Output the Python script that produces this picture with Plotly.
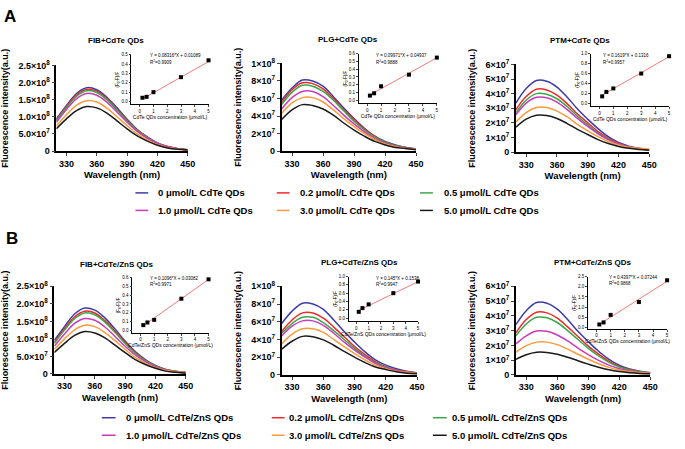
import plotly.graph_objects as go

############ Data ##############
wavelength = [320, 330, 340, 350, 360, 370, 380, 390, 400, 410, 420, 430, 440, 450]

conc_labels = ["0", "0.2", "0.5", "1.0", "3.0", "5.0"]
line_colors = ["#3c3ca8", "#f02828", "#3aa84a", "#c83cb8", "#fb9a3c", "#1a1a1a"]

# emission spectra, one row per QD concentration
# FIB values in units of 1e8, PLG / PTM values in units of 1e7
fib_cdte = [
    [0.93, 1.33, 1.68, 1.85, 1.79, 1.57, 1.26, 0.93, 0.63, 0.41, 0.24, 0.13, 0.07, 0.04],
    [0.90, 1.30, 1.64, 1.80, 1.75, 1.53, 1.22, 0.90, 0.61, 0.40, 0.23, 0.13, 0.07, 0.04],
    [0.88, 1.27, 1.60, 1.76, 1.71, 1.50, 1.20, 0.88, 0.60, 0.39, 0.23, 0.12, 0.07, 0.04],
    [0.84, 1.21, 1.53, 1.68, 1.63, 1.43, 1.14, 0.84, 0.57, 0.37, 0.22, 0.12, 0.07, 0.03],
    [0.74, 1.06, 1.34, 1.47, 1.43, 1.25, 1.00, 0.74, 0.50, 0.32, 0.19, 0.10, 0.06, 0.03],
    [0.65, 0.94, 1.18, 1.30, 1.26, 1.11, 0.88, 0.65, 0.44, 0.29, 0.17, 0.09, 0.05, 0.03],
]
plg_cdte = [
    [5.8, 7.2, 8.1, 8.0, 7.4, 6.2, 4.9, 3.7, 2.6, 1.7, 1.1, 0.7, 0.4, 0.25],
    [5.5, 7.0, 7.8, 7.7, 7.1, 6.0, 4.7, 3.6, 2.5, 1.7, 1.0, 0.6, 0.4, 0.2],
    [5.3, 6.7, 7.5, 7.4, 6.8, 5.8, 4.6, 3.4, 2.4, 1.6, 1.0, 0.6, 0.4, 0.2],
    [4.8, 6.1, 6.8, 6.8, 6.2, 5.2, 4.1, 3.1, 2.2, 1.4, 0.9, 0.55, 0.35, 0.2],
    [4.3, 5.5, 6.1, 6.1, 5.6, 4.7, 3.7, 2.8, 2.0, 1.3, 0.8, 0.5, 0.3, 0.2],
    [3.6, 4.7, 5.3, 5.2, 4.8, 4.1, 3.2, 2.4, 1.7, 1.1, 0.7, 0.4, 0.3, 0.15],
]
ptm_cdte = [
    [3.35, 4.35, 4.9, 4.85, 4.45, 3.75, 2.95, 2.25, 1.6, 1.05, 0.65, 0.4, 0.25, 0.15],
    [2.9, 3.8, 4.3, 4.25, 3.9, 3.3, 2.6, 2.0, 1.4, 0.95, 0.6, 0.35, 0.22, 0.14],
    [2.7, 3.55, 4.0, 3.95, 3.65, 3.1, 2.45, 1.85, 1.3, 0.9, 0.55, 0.35, 0.22, 0.14],
    [2.55, 3.35, 3.75, 3.72, 3.42, 2.9, 2.3, 1.75, 1.25, 0.85, 0.55, 0.35, 0.22, 0.14],
    [2.05, 2.7, 3.05, 3.05, 2.8, 2.4, 1.9, 1.45, 1.05, 0.72, 0.48, 0.33, 0.25, 0.2],
    [1.7, 2.25, 2.52, 2.5, 2.3, 1.95, 1.55, 1.2, 0.85, 0.58, 0.38, 0.25, 0.17, 0.12],
]
fib_cdte_zns = [
    [0.96, 1.35, 1.71, 1.88, 1.82, 1.60, 1.28, 0.94, 0.64, 0.41, 0.24, 0.13, 0.08, 0.05],
    [0.90, 1.29, 1.63, 1.79, 1.74, 1.52, 1.22, 0.90, 0.61, 0.39, 0.23, 0.13, 0.07, 0.04],
    [0.87, 1.25, 1.58, 1.74, 1.69, 1.48, 1.18, 0.87, 0.59, 0.38, 0.23, 0.12, 0.07, 0.04],
    [0.79, 1.14, 1.44, 1.58, 1.53, 1.34, 1.07, 0.79, 0.54, 0.35, 0.21, 0.11, 0.06, 0.03],
    [0.70, 1.00, 1.26, 1.39, 1.35, 1.18, 0.95, 0.70, 0.47, 0.31, 0.18, 0.10, 0.06, 0.03],
    [0.61, 0.87, 1.10, 1.21, 1.17, 1.03, 0.82, 0.61, 0.41, 0.27, 0.16, 0.08, 0.05, 0.02],
]
plg_cdte_zns = [
    [5.8, 7.2, 8.1, 8.0, 7.4, 6.2, 4.9, 3.7, 2.6, 1.7, 1.1, 0.7, 0.4, 0.25],
    [4.9, 6.2, 7.0, 7.0, 6.4, 5.4, 4.3, 3.2, 2.3, 1.5, 0.9, 0.55, 0.35, 0.2],
    [4.7, 5.8, 6.5, 6.5, 5.9, 5.0, 4.0, 3.0, 2.1, 1.4, 0.9, 0.5, 0.3, 0.2],
    [4.4, 5.5, 6.1, 6.1, 5.6, 4.7, 3.7, 2.8, 2.0, 1.3, 0.8, 0.5, 0.3, 0.2],
    [3.5, 4.6, 5.2, 5.2, 4.8, 4.0, 3.2, 2.4, 1.7, 1.1, 0.7, 0.4, 0.3, 0.15],
    [2.9, 3.8, 4.35, 4.3, 3.95, 3.35, 2.65, 2.0, 1.4, 0.9, 0.6, 0.35, 0.2, 0.12],
]
ptm_cdte_zns = [
    [3.4, 4.35, 4.9, 4.85, 4.45, 3.75, 2.95, 2.25, 1.6, 1.05, 0.65, 0.4, 0.25, 0.15],
    [2.85, 3.75, 4.25, 4.2, 3.85, 3.25, 2.6, 1.95, 1.4, 0.92, 0.58, 0.36, 0.22, 0.14],
    [2.65, 3.45, 3.9, 3.87, 3.55, 3.0, 2.4, 1.8, 1.28, 0.85, 0.54, 0.34, 0.21, 0.13],
    [2.1, 2.65, 2.97, 2.95, 2.7, 2.3, 1.82, 1.38, 0.98, 0.66, 0.42, 0.27, 0.17, 0.11],
    [1.55, 1.98, 2.22, 2.22, 2.05, 1.75, 1.4, 1.06, 0.76, 0.51, 0.33, 0.21, 0.14, 0.1],
    [1.05, 1.36, 1.53, 1.52, 1.4, 1.2, 0.96, 0.73, 0.52, 0.35, 0.23, 0.15, 0.1, 0.07],
]

# Stern-Volmer insets: (F0-F)/F vs QD concentration
quench_conc = [0.2, 0.5, 1, 3, 5]
fib_cdte_quench = [0.04, 0.05, 0.10, 0.26, 0.44]
plg_cdte_quench = [0.06, 0.09, 0.18, 0.33, 0.55]
ptm_cdte_quench = [0.14, 0.23, 0.30, 0.60, 0.95]
fib_cdte_zns_quench = [0.06, 0.09, 0.12, 0.36, 0.58]
plg_cdte_zns_quench = [0.15, 0.24, 0.33, 0.60, 0.88]
ptm_cdte_zns_quench = [0.15, 0.25, 0.62, 1.25, 2.32]

fit_slope = [0.08316, 0.09971, 0.1619, 0.1096, 0.1450, 0.4397]
fit_intercept = [0.01089, 0.04937, 0.1316, 0.03082, 0.1538, 0.07244]
fit_r2 = ["0.9909", "0.9888", "0.9957", "0.9971", "0.9947", "0.9868"]

# main y tick labels
fib_tickvals = [0, 5e7, 1e8, 1.5e8, 2e8, 2.5e8]
fib_ticktext = ["0", "5.0×10<sup>7</sup>", "1.0×10<sup>8</sup>", "1.5×10<sup>8</sup>",
                "2.0×10<sup>8</sup>", "2.5×10<sup>8</sup>"]
plg_tickvals = [0, 2e7, 4e7, 6e7, 8e7, 1e8]
plg_ticktext = ["0", "2×10<sup>7</sup>", "4×10<sup>7</sup>", "6×10<sup>7</sup>",
                "8×10<sup>7</sup>", "1×10<sup>8</sup>"]
ptm_tickvals = [0, 1e7, 2e7, 3e7, 4e7, 5e7, 6e7]
ptm_ticktext = ["0", "1×10<sup>7</sup>", "2×10<sup>7</sup>", "3×10<sup>7</sup>",
                "4×10<sup>7</sup>", "5×10<sup>7</sup>", "6×10<sup>7</sup>"]

####### Layout settings (pixels) ######
W, H = 685, 449
FONT = "Liberation Sans, Arial, sans-serif"


def px(x):
    return x / W


def py(y):
    return 1 - y / H


panels = [
    dict(title="FIB+CdTe QDs", qd="CdTe", spectra=fib_cdte, unit=1e8, quench=fib_cdte_quench,
         ticks=(fib_tickvals, fib_ticktext), ymax=2.5e8,
         main=(57, 190, 60, 148), title_xy=(117, 34),
         inset=(133, 211, 49, 100), inset_y=(-0.03, 0.5), inset_dtick=0.1, eq_xy=(150, 50)),
    dict(title="PLG+CdTe QDs", qd="CdTe", spectra=plg_cdte, unit=1e7, quench=plg_cdte_quench,
         ticks=(plg_tickvals, plg_ticktext), ymax=1e8,
         main=(285, 421, 58, 148), title_xy=(352, 33),
         inset=(363, 442, 48, 99), inset_y=(-0.04, 0.6), inset_dtick=0.1, eq_xy=(378, 50)),
    dict(title="PTM+CdTe QDs", qd="CdTe", spectra=ptm_cdte, unit=1e7, quench=ptm_cdte_quench,
         ticks=(ptm_tickvals, ptm_ticktext), ymax=6e7,
         main=(522, 657, 59, 149), title_xy=(587, 34),
         inset=(598, 677, 48, 102), inset_y=(-0.06, 1.0), inset_dtick=0.2, eq_xy=(608, 50)),
    dict(title="FIB+CdTe/ZnS QDs", qd="CdTe/ZnS", spectra=fib_cdte_zns, unit=1e8, quench=fib_cdte_zns_quench,
         ticks=(fib_tickvals, fib_ticktext), ymax=2.5e8,
         main=(55, 188, 287, 377), title_xy=(118, 265),
         inset=(134, 211, 278, 335), inset_y=(-0.03, 0.6), inset_dtick=0.1, eq_xy=(150, 279)),
    dict(title="PLG+CdTe/ZnS QDs", qd="CdTe/ZnS", spectra=plg_cdte_zns, unit=1e7, quench=plg_cdte_zns_quench,
         ticks=(plg_tickvals, plg_ticktext), ymax=1e8,
         main=(285, 422, 287, 378), title_xy=(364, 263),
         inset=(353, 423, 277, 323), inset_y=(-0.08, 1.0), inset_dtick=0.2, eq_xy=(378, 279)),
    dict(title="PTM+CdTe/ZnS QDs", qd="CdTe/ZnS", spectra=ptm_cdte_zns, unit=1e7, quench=ptm_cdte_zns_quench,
         ticks=(ptm_tickvals, ptm_ticktext), ymax=6e7,
         main=(522, 658, 287, 378), title_xy=(600, 263),
         inset=(595, 675, 277, 331), inset_y=(-0.08, 2.5), inset_dtick=0.5, eq_xy=(614, 278)),
]

fig = go.Figure()
layout = {}
annotations = []
shapes = []

for i, p in enumerate(panels):
    m = 2 * i + 1
    n = 2 * i + 2
    sm = "" if m == 1 else str(m)

    # spectra
    for curve, color in zip(p["spectra"], line_colors):
        fig.add_trace(go.Scatter(
            x=wavelength, y=[v * p["unit"] for v in curve], mode="lines",
            line=dict(color=color, width=1.5, shape="spline", smoothing=1.0),
            xaxis="x" + sm, yaxis="y" + sm, showlegend=False, hoverinfo="skip",
        ))

    x0, x1, y0, y1 = p["main"]
    layout["xaxis" + sm] = dict(
        domain=[px(x0), px(x1)], anchor="y" + sm, range=[320, 450],
        tickvals=[330, 360, 390, 420, 450], ticks="outside", ticklen=3, tickwidth=1.3,
        showline=True, linecolor="black", linewidth=1.5, showgrid=False, zeroline=False,
        tickfont=dict(family=FONT, size=9, color="black", weight="bold"),
        title=dict(text="Wavelength (nm)", standoff=4,
                   font=dict(family=FONT, size=9.5, color="black", weight="bold")),
    )
    layout["yaxis" + sm] = dict(
        domain=[py(y1), py(y0)], anchor="x" + sm, range=[0, p["ymax"]],
        tickvals=p["ticks"][0], ticktext=p["ticks"][1], ticks="outside", ticklen=3, tickwidth=1.3,
        showline=True, linecolor="black", linewidth=1.5, showgrid=False, zeroline=False,
        tickfont=dict(family=FONT, size=9, color="black", weight="bold"),
        title=dict(text="Fluorescence intensity(a.u.)", standoff=8,
                   font=dict(family=FONT, size=9, color="black", weight="bold")),
    )

    # inset: quenching fit
    fx = [quench_conc[0], quench_conc[-1]]
    fy = [fit_slope[i] * c + fit_intercept[i] for c in fx]
    fig.add_trace(go.Scatter(
        x=fx, y=fy, mode="lines", line=dict(color="#f47a7a", width=1),
        xaxis="x%d" % n, yaxis="y%d" % n, showlegend=False, hoverinfo="skip",
    ))
    fig.add_trace(go.Scatter(
        x=quench_conc, y=p["quench"], mode="markers", cliponaxis=False,
        marker=dict(symbol="square", size=4, color="black"),
        xaxis="x%d" % n, yaxis="y%d" % n, showlegend=False, hoverinfo="skip",
    ))

    ix0, ix1, iy0, iy1 = p["inset"]
    ylo, yhi = p["inset_y"]
    dt = p["inset_dtick"]
    k = int(round(yhi / dt))
    ivals = [j * dt for j in range(k + 1)]
    itext = ["%.1f" % v for v in ivals]
    layout["xaxis%d" % n] = dict(
        domain=[px(ix0), px(ix1)], anchor="y%d" % n, range=[-0.6, 5],
        tickvals=[0, 1, 2, 3, 4, 5], ticks="outside", ticklen=2, tickwidth=0.8,
        showline=True, linecolor="black", linewidth=0.8, showgrid=False, zeroline=False,
        tickfont=dict(family=FONT, size=4.5, color="black"),
        title=dict(text=p["qd"] + " QDs concentration (μmol/L)", standoff=2,
                   font=dict(family=FONT, size=5, color="black")),
    )
    layout["yaxis%d" % n] = dict(
        domain=[py(iy1), py(iy0)], anchor="x%d" % n, range=[ylo, yhi],
        tickvals=ivals, ticktext=itext, ticks="outside", ticklen=2, tickwidth=0.8,
        showline=True, linecolor="black", linewidth=0.8, showgrid=False, zeroline=False,
        tickfont=dict(family=FONT, size=4.5, color="black"),
        title=dict(text="(F<sub>0</sub>-F)/F", standoff=1,
                   font=dict(family=FONT, size=4.5, color="black")),
    )

    ex, ey = p["eq_xy"]
    annotations.append(dict(
        text="Y = %s*X + %s" % (fit_slope[i], fit_intercept[i]), x=px(ex), y=py(ey),
        xref="paper", yref="paper", xanchor="left", yanchor="middle", showarrow=False,
        font=dict(family=FONT, size=4.5, color="black"),
    ))
    annotations.append(dict(
        text="R<sup>2</sup>=" + fit_r2[i], x=px(ex), y=py(ey + 6),
        xref="paper", yref="paper", xanchor="left", yanchor="middle", showarrow=False,
        font=dict(family=FONT, size=4.5, color="black"),
    ))

    tx, ty = p["title_xy"]
    annotations.append(dict(
        text=p["title"], x=px(tx), y=py(ty), xref="paper", yref="paper",
        xanchor="center", yanchor="middle", showarrow=False,
        font=dict(family=FONT, size=8, color="black", weight="bold"),
    ))

# legends (two per figure part)
legend_rows = [
    dict(qd="CdTe", rows=(191, 209), cols=[(137, 150, 158), (280, 293, 302), (425, 438, 447)]),
    dict(qd="CdTe/ZnS", rows=(422, 440), cols=[(103, 117, 125), (275, 288, 290), (438, 452, 455)]),
]
for lg in legend_rows:
    for j, (lab, color) in enumerate(zip(conc_labels, line_colors)):
        r = lg["rows"][j // 3]
        lx0, lx1, tx = lg["cols"][j % 3]
        shapes.append(dict(type="line", xref="paper", yref="paper",
                           x0=px(lx0), x1=px(lx1), y0=py(r), y1=py(r),
                           line=dict(color=color, width=1.5)))
        annotations.append(dict(
            text="%s μmol/L %s QDs" % (lab, lg["qd"]), x=px(tx), y=py(r),
            xref="paper", yref="paper", xanchor="left", yanchor="middle", showarrow=False,
            font=dict(family=FONT, size=9.5, color="black", weight="bold"),
        ))

# part labels
for lab, (lx, ly) in [("A", (10, 10)), ("B", (12, 238))]:
    annotations.append(dict(
        text=lab, x=px(lx), y=py(ly), xref="paper", yref="paper",
        xanchor="center", yanchor="middle", showarrow=False,
        font=dict(family=FONT, size=17, color="black", weight="bold"),
    ))

fig.update_layout(
    width=W, height=H, margin=dict(l=0, r=0, t=0, b=0),
    paper_bgcolor="white", plot_bgcolor="white",
    annotations=annotations, shapes=shapes, **layout,
)

# drop the default 8px page margin so the figure sits at the window's corner
fig.write_html("out.html", config={"displayModeBar": False},
               post_script="document.body.style.margin = '0';")
